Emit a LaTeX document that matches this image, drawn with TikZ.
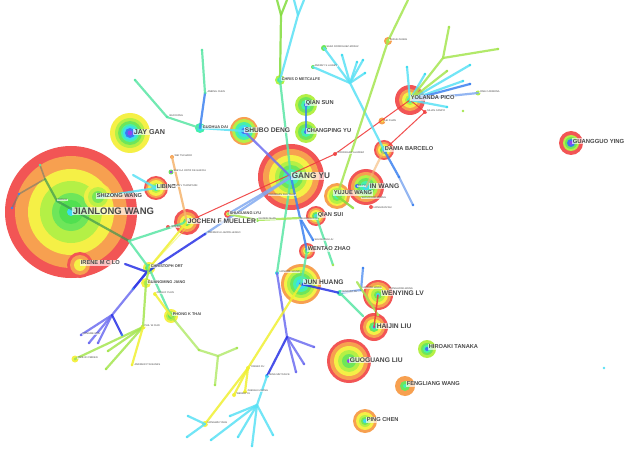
\documentclass[tikz,border=0pt]{standalone}
\usepackage{fontspec}
\setmainfont{Liberation Sans}
\definecolor{cR}{HTML}{F25555}
\definecolor{cO}{HTML}{F7A050}
\definecolor{cY}{HTML}{F5F046}
\definecolor{cLG}{HTML}{B4F046}
\definecolor{cG}{HTML}{6EE65A}
\definecolor{cG2}{HTML}{50E050}
\definecolor{cA}{HTML}{46F0AA}
\definecolor{cC}{HTML}{3CDCF0}
\definecolor{cB}{HTML}{3C78F0}
\definecolor{cP}{HTML}{9046F0}
\definecolor{eAG}{HTML}{5AE6A5}
\definecolor{eC}{HTML}{5AE1F5}
\definecolor{eB}{HTML}{3C82F0}
\definecolor{eLB}{HTML}{82AAF0}
\definecolor{eDB}{HTML}{2832E6}
\definecolor{ePB}{HTML}{6E6EF0}
\definecolor{eLG}{HTML}{A5E650}
\definecolor{eG}{HTML}{82DC3C}
\definecolor{eY}{HTML}{F0F032}
\definecolor{eO}{HTML}{F5B46E}
\definecolor{eR}{HTML}{F03C3C}
\definecolor{eGr}{HTML}{6E7A6E}
\definecolor{eDG}{HTML}{3C9650}
\definecolor{txt}{HTML}{484848}
\newcommand\citering[2]{\foreach \rr/\cc in {#2} {\fill[\cc] (#1) circle[radius=\rr];}}
\newcommand\tipdot[2]{\fill[#1] (#2) circle[radius=1.3];}
\tikzset{
 lnk/.style={line width=2.2pt, line cap=round, opacity=0.85},
 lnkthin/.style={line width=1pt, line cap=round, opacity=0.9},
 lab/.style={anchor=west, inner sep=0.6pt, fill=white, fill opacity=0.65, text opacity=1, text=txt},
 L1/.style={lab, font=\fontsize{9.5}{10}\selectfont\bfseries},
 Lg/.style={lab, font=\fontsize{8.2}{9}\selectfont\bfseries},
 Lj/.style={lab, font=\fontsize{7.2}{8}\selectfont\bfseries},
 L2/.style={lab, font=\fontsize{6.7}{7}\selectfont\bfseries},
 L3/.style={lab, font=\fontsize{5.7}{6}\selectfont\bfseries},
 L4/.style={lab, font=\fontsize{3.9}{4}\selectfont\bfseries},
 L5/.style={lab, inner sep=0.3pt, font=\fontsize{2.5}{3}\selectfont},
}
\begin{document}
\begin{tikzpicture}[x=1pt,y=-1pt]
\useasboundingbox (0,0) rectangle (628,454);
\fill[white] (0,0) rectangle (628,454);
% ---------- coordinates ----------
\coordinate (JW) at (71,212);   \coordinate (GY) at (291,177);  \coordinate (JG) at (130,133);
\coordinate (SD) at (244,131);  \coordinate (QS) at (306,105);  \coordinate (CY) at (306,132);
\coordinate (CM) at (280,80);   \coordinate (YZ) at (388,41);   \coordinate (SR) at (324,48);
\coordinate (AL) at (313,67);   \coordinate (LD) at (382,121);  \coordinate (YP) at (410,100);
\coordinate (DB) at (384,150);  \coordinate (IW) at (366,187);  \coordinate (YW) at (337,196);
\coordinate (QSu) at (316,216); \coordinate (WZ) at (307,251);  \coordinate (JH) at (301,284);
\coordinate (WL) at (378,295);  \coordinate (HL) at (374,327);  \coordinate (GL) at (349,361);
\coordinate (HT) at (427,349);  \coordinate (FW) at (405,386);  \coordinate (PC) at (365,421);
\coordinate (GYg) at (571,143); \coordinate (LB) at (156,188);  \coordinate (SW) at (98,197);
\coordinate (JM) at (187,222);  \coordinate (IL) at (80,265);   \coordinate (CO) at (149,268);
\coordinate (GJ) at (146,283);  \coordinate (PT) at (171,316);  \coordinate (SL) at (228,214);
\coordinate (PWC) at (143,327); \coordinate (JOB) at (75,359);  \coordinate (ZY) at (155,294);
\coordinate (GD) at (200,128);  \coordinate (BD) at (167,117);  \coordinate (AC) at (205,93);
\coordinate (SG) at (171,172);  \coordinate (TS) at (172,157);  \coordinate (RA) at (335,154);
\coordinate (JC) at (425,112);  \coordinate (JCa) at (478,93);  \coordinate (XY) at (357,186);
\coordinate (HW) at (371,207);  \coordinate (SZ) at (362,199);  \coordinate (JD) at (340,293);
\coordinate (HJW) at (361,290); \coordinate (HM) at (277,273);  \coordinate (YX) at (248,368);
\coordinate (ZZ) at (245,392);  \coordinate (WB) at (234,395);  \coordinate (HY) at (205,424);
\coordinate (MT) at (267,376);  \coordinate (LA) at (205,234);  \coordinate (GH) at (300,218);
\coordinate (GB) at (257,220);  \coordinate (ZL) at (57,201);   \coordinate (JMr) at (168,227);
% junctions and free ends
\coordinate (j1) at (40,165); \coordinate (j2) at (45,179); \coordinate (j3) at (19,194);
\coordinate (j4) at (12,208); \coordinate (j5) at (129,241); \coordinate (j6) at (133,175);
\coordinate (hub1) at (350,83); \coordinate (h1a) at (342,55); \coordinate (h1b) at (357,62);
\coordinate (h1c) at (363,60); \coordinate (h1d) at (365,73); \coordinate (top1) at (408,0);
\coordinate (yp1) at (407,67); \coordinate (yp2) at (425,74); \coordinate (yp3) at (447,71);
\coordinate (yp4) at (470,65); \coordinate (yp5) at (470,84); \coordinate (yp6) at (447,107);
\coordinate (yp7) at (443,58); \coordinate (yp8) at (449,27); \coordinate (yp9) at (498,49);
\coordinate (yp10) at (463,81); \coordinate (ypx) at (463,111);
\coordinate (db1) at (399,177); \coordinate (db2) at (413,205);
\coordinate (gd1) at (135,80); \coordinate (ac1) at (202,50);
\coordinate (cm1) at (281,15); \coordinate (cm2) at (277,0); \coordinate (cm3) at (287,0);
\coordinate (cm4) at (298,15); \coordinate (cm5) at (304,0); \coordinate (cm6) at (294,0);
\coordinate (bx) at (147,272); \coordinate (hub2) at (112,315);
\coordinate (b1) at (81,335); \coordinate (b2) at (89,343); \coordinate (b3) at (98,343);
\coordinate (b4) at (122,335); \coordinate (b5) at (133,289); \coordinate (il1) at (125,264);
\coordinate (pw1) at (108,351); \coordinate (pw2) at (106,369); \coordinate (pw3) at (132,365);
\coordinate (pt1) at (199,350); \coordinate (pt2) at (218,356); \coordinate (pt3) at (237,348);
\coordinate (pt4) at (215,385);
\coordinate (hm2) at (287,337); \coordinate (m1) at (314,347); \coordinate (m2) at (304,364);
\coordinate (m3) at (296,372); \coordinate (hub3) at (257,405);
\coordinate (c1) at (230,416); \coordinate (c2) at (211,440); \coordinate (c3) at (238,437);
\coordinate (c4) at (252,446); \coordinate (c5) at (273,435);
\coordinate (hy1) at (188,416); \coordinate (hy2) at (187,437);
\coordinate (hj1) at (363,268); \coordinate (hj2) at (363,316); \coordinate (hj3) at (357,282);
\coordinate (hj4) at (378,315); \coordinate (gh1) at (313,240); \coordinate (qs1) at (333,265);
\coordinate (yw1) at (353,208); \coordinate (iso) at (604,368);
% ---------- rings ----------
\citering{JW}{66/cR,56/cO,43/cY,31/cLG,19/cG,12/cG2,4/cC}
\begin{scope}[opacity=0.85]
\citering{SW}{14/cY,10/cLG,6/cG}
\end{scope}
\citering{IL}{13/cR,10/cO,6/cY}
\citering{JG}{20/cY,15/cLG,12/cG,9/cA,7/cC,5/cB,2.5/cP}
\citering{LB}{12/cR,10/cO,8/cY,5/cLG,3/cA}
\citering{JM}{13/cR,10/cO,7/cY,4/cG,2/cA}
\citering{CO}{6/cY,4/cG,2/cA}
\citering{GJ}{5/cY,2.5/cLG}
\citering{PT}{7/cY,5/cLG,3/cG}
\citering{SL}{4/cR,2/cY}
\citering{GY}{33/cR,28/cO,22/cY,16/cLG,12/cG,8/cA,4/cC,2/cB}
\citering{SD}{14/cO,12/cLG,9/cA,6/cC,3/cB}
\citering{QS}{11/cLG,8/cG,5/cA,2/cB}
\citering{CY}{11/cLG,8/cG,5/cA,2/cB}
\citering{CM}{5/cLG,3/cA,1.5/cB}
\citering{YZ}{4/cO,2/cLG}
\citering{SR}{3/cG}
\citering{AL}{2/cG}
\citering{LD}{3.5/cO,1.5/cY}
\citering{YP}{15/cR,11/cO,8/cY,5/cLG,3/cA}
\citering{DB}{10/cR,8/cO,6/cY,4/cG,2/cC}
\citering{IW}{18/cR,15/cO,12/cLG,9/cG,6/cA,3/cC}
\citering{YW}{13/cO,10/cY,8/cLG,5/cG,3/cA}
\citering{QSu}{10/cR,8/cO,6/cY,4/cG,2/cC}
\citering{WZ}{8/cR,6/cO,4/cY,2.5/cG,1.2/cC}
\citering{JH}{20/cO,17/cY,14/cLG,11/cG,8/cA,5/cC,2/cB}
\citering{WL}{15/cR,13/cO,10/cY,7/cLG,4/cG,2/cC}
\citering{HL}{14/cR,11/cO,8/cY,5/cG,3/cA,1.5/cP}
\citering{GL}{22/cR,19/cO,15/cY,11/cLG,7/cG,2/cP}
\citering{HT}{9/cLG,6/cG,4/cA,2/cB}
\citering{FW}{10/cO,5/cG,2/cA}
\citering{PC}{12/cO,9/cY,6/cLG,4/cG,2/cC}
\citering{GYg}{12/cR,8/cLG,6/cG,4/cB,2/cP}
\citering{PWC}{2.5/cY}
\citering{JOB}{3.5/cY,1.5/cLG}
\citering{ZY}{2/cY}
\citering{GD}{5/cA,3/cC}
\citering{BD}{1.5/cA}
\citering{AC}{1.5/cA}
\citering{SG}{2.5/cG,1.5/cP}
\citering{TS}{2/cO}
\citering{RA}{2/cR}
\citering{JC}{2/cR}
\citering{JCa}{2.5/cLG}
\citering{XY}{2/cB}
\citering{HW}{2/cR}
\citering{SZ}{1.5/cO}
\citering{JD}{3/cA}
\citering{HJW}{1.5/cB}
\citering{HM}{2/cC}
\citering{YX}{2/cY}
\citering{ZZ}{2/cY}
\citering{WB}{2/cY}
\citering{HY}{3/cY}
\citering{MT}{2/cC}
\citering{LA}{1.5/cB}
\citering{GH}{1.5/cB}
\citering{GB}{2/cG}
\citering{JMr}{2/cR}
\citering{ZL}{1.3/cA}
% ---------- connectors ----------
\draw[lnk,eGr,opacity=0.6,line width=1.6pt] (j1) -- (j2) -- (j3) -- (j4);
\draw[lnk,eDG,opacity=0.7] (j2) -- (ZL) -- (j5);
\draw[lnk,eAG] (j5) -- (JM);
\draw[lnk,eAG] (j5) -- (CO) -- (PT);
\draw[lnk,eC] (j6) -- (LB);
\draw[lnk,eC] (SW) -- (LB);
\draw[lnk,eO] (TS) -- (JM);
\draw[lnkthin,eR] (JM) -- (RA) -- (YP);
\draw[lnkthin,eR] (YP) -- (JC) -- (DB);
\draw[lnk,eO,opacity=0.6] (DB) -- (IW);
\draw[lnk,eB] (DB) -- (db1);
\draw[lnk,eLB] (db1) -- (db2);
\draw[lnk,eC] (hub1) -- (DB);
\foreach \t in {SR,AL,h1a,h1b,h1c,h1d} {\draw[lnk,eC] (hub1) -- (\t);}
\draw[lnk,eLG] (top1) -- (YZ) -- (YW);
\foreach \t in {yp1,yp2,yp4,yp6,yp10} {\draw[lnk,eC] (YP) -- (\t);}
\draw[lnk,eLG] (YP) -- (yp3);
\draw[lnk,eB] (YP) -- (yp5);
\draw[lnk,eLB] (YP) -- (JCa);
\draw[lnk,eLG] (YP) -- (yp7) -- (yp8);
\draw[lnk,eLG] (yp7) -- (yp9);
\draw[lnk,ePB] (SD) -- (GY);
\draw[lnk,eC] (GD) -- (SD);
\draw[lnk,eAG] (GD) -- (BD) -- (gd1);
\draw[lnk,eB] (GD) -- (AC);
\draw[lnk,eAG] (AC) -- (ac1);
\draw[lnk,eB] (QS) -- (CY);
\draw[lnk,eAG] (CM) -- (GY);
\draw[lnk,eG] (CM) -- (cm1) -- (cm2);
\draw[lnk,eG] (cm1) -- (cm3);
\draw[lnk,eC] (CM) -- (cm4) -- (cm5);
\draw[lnk,eC] (cm4) -- (cm6);
\draw[lnk,eLB] (GY) -- (SL);
\draw[lnk,eLB] (GY) -- (LA);
\draw[lnk,eDB] (LA) -- (bx);
\draw[lnk,eDB] (il1) -- (bx);
\draw[lnk,ePB] (bx) -- (hub2);
\draw[lnk,eDB] (bx) -- (b5);
\foreach \t in {b1,b2,b3} {\draw[lnk,ePB] (hub2) -- (\t);}
\draw[lnk,eDB] (hub2) -- (b4);
\draw[lnk,eY] (JM) -- (CO);
\draw[lnkthin,eY,opacity=0.5] ([xshift=5pt]JM) -- (CO);
\draw[lnk,eLG] (CO) -- (GJ) -- (PWC);
\foreach \t in {JOB,pw1,pw2} {\draw[lnk,eLG] (PWC) -- (\t);}
\draw[lnk,eY] (PWC) -- (pw3);
\draw[lnk,eY] (ZY) -- (PT);
\draw[lnk,eLG,opacity=0.7] (PT) -- (pt1) -- (pt2) -- (pt3);
\draw[lnk,eLG,opacity=0.7] (pt2) -- (pt4);
\draw[lnk,eAG] (GY) -- (HM);
\draw[lnk,ePB] (HM) -- (hm2);
\foreach \t in {m1,m2,m3} {\draw[lnk,ePB] (hm2) -- (\t);}
\draw[lnk,eDB] (hm2) -- (MT);
\draw[lnk,eC] (MT) -- (hub3);
\foreach \t in {c1,c2,c3,c4,c5} {\draw[lnk,eC] (hub3) -- (\t);}
\draw[lnk,eY] (JH) -- (YX) -- (HY);
\draw[lnk,eY] (YX) -- (ZZ);
\draw[lnk,eY] (YX) -- (WB);
\draw[lnk,eC] (HY) -- (hy1);
\draw[lnk,eC] (HY) -- (hy2);
\draw[lnk,eDB] (JH) -- (JD);
\draw[lnk,eLB] (JD) -- (HJW);
\draw[lnk,eB,opacity=0.7] (hj1) -- (HJW);
\draw[lnk,eAG] (JD) -- (hj2);
\draw[lnk,eLG] (hj3) -- (hj4);
\draw[lnk,eR,line width=1.5pt] (WL) -- (HL);
\draw[lnk,eB] (GY) -- (GH);
\draw[lnk,eB] (GH) -- (gh1);
\draw[lnk,eB] (GH) -- (WZ);
\draw[lnk,eAG] (QSu) -- (qs1);
\draw[lnk,eAG] (WZ) -- (JH);
\draw[lnk,eLG] (SL) -- (GB) -- (GH);
\draw[lnk,eG] (YW) -- (yw1);
% free-end dots
\foreach \t in {h1a,h1b,h1c,h1d,yp1,yp2,yp4,yp6,yp10} {\tipdot{cC}{\t}}
\foreach \t in {yp3,yp8,yp9,ypx,pw1,pw2,pt3,pt4,yw1,qs1,pt1,hj4} {\tipdot{eLG}{\t}}
\foreach \t in {yp5,db1,db2,hj1,gh1,j3,j4,b5,b4} {\tipdot{eB}{\t}}
\foreach \t in {b1,b2,b3,m1,m2,m3} {\tipdot{ePB}{\t}}
\foreach \t in {c1,c2,c3,c4,c5,hy1,hy2,iso} {\tipdot{eC}{\t}}
\foreach \t in {gd1,ac1,j1,j5} {\tipdot{eAG}{\t}}
\tipdot{eY}{pw3}
% ---------- labels ----------
\node[L1] (lJW) at (72,211) {JIANLONG WANG};
\node[Lg] (lGY) at (291,176) {GANG YU};
\node[Lj] (lJG) at (133,132) {JAY GAN};
\node[L2] (lSD) at (244,130) {SHUBO DENG};
\node[L3] (lQS) at (305,103) {QIAN SUN};
\node[L3] (lCY) at (306,131) {CHANGPING YU};
\node[L4] (lCM) at (281,79) {CHRIS D METCALFE};
\node[L5] (lYZ) at (389,40) {YUZHE ZHANG};
\node[L5] (lSR) at (326,47) {SARA RODRIGUEZ-MOZAZ};
\node[L5] (lAL) at (314,66) {ANDREY S LAJEEV};
\node[L5] (lLD) at (384,121) {LEI DUAN};
\node[L3] (lYP) at (410,98) {YOLANDA PICO};
\node[L5] (lJC) at (426,111) {JULIAN CAMPO};
\node[L5] (lJCa) at (479,92) {JOSE CARMONA};
\node[L3] (lDB) at (384,149) {DAMIA BARCELO};
\node[L5] (lRA) at (337,153) {RODRIGUEZ ALVAREZ};
\node[L2] (lIW) at (369,186) {IN WANG};
\node[L5] (lXY) at (357,186) {XIA YU};
\node[L5] (lSZ) at (361,198) {SHOUXIANG ZHANG};
\node[L5] (lHW) at (373,208) {HONGXIAN WU};
\node[L3] (lYW) at (333,193) {YUJUE WANG};
\node[L3] (lQSu) at (317,215) {QIAN SUI};
\node[L5] (lGH) at (299,219) {GUANGHUI LIU};
\node[L5] (lGL1) at (314,240) {SHUGUANG LIU};
\node[L3] (lWZ) at (307,249) {WENTAO ZHAO};
\node[L2] (lJH) at (303,282) {JUN HUANG};
\node[L5] (lJD) at (341,292) {JIANGHUI DU};
\node[L5] (lHJW) at (362,288) {HUIJUAN WANG};
\node[L5] (lDW) at (389,289) {DONGHONG WANG};
\node[L2] (lWL) at (381,293) {WENYING LV};
\node[L2] (lHL) at (376,326) {HAIJIN LIU};
\node[L2] (lGL) at (349,360) {GUOGUANG LIU};
\node[L3] (lHT) at (428,347) {HIROAKI TANAKA};
\node[L3] (lFW) at (406,384) {FENGLIANG WANG};
\node[L3] (lPC) at (366,420) {PING CHEN};
\node[lab, font=\fontsize{5.9}{6}\selectfont\bfseries] (lGYg) at (572,141) {GUANGGUO YING};
\node[L3] (lLB) at (156,187) {LIBING};
\node[L5] (lKT) at (172,186) {KEVIN V THOMPSON};
\node[L3] (lSW) at (96,196) {SHIZONG WANG};
\node[L2] (lJM) at (187,221) {JOCHEN F MUELLER};
\node[L3] (lIL) at (80,263) {IRENE M C LO};
\node[L4] (lCO) at (150,266) {CHRISTOPH ORT};
\node[L4] (lGJ) at (147,282) {GUANGMING JIANG};
\node[L5] (lZY) at (156,293) {ZHIGUO YUAN};
\node[L4] (lPT) at (172,314) {PHONG K THAI};
\node[L5] (lPWC) at (144,326) {PHIL W CHOI};
\node[L5] (lJOB) at (77,358) {JAKE W O'BRIEN};
\node[L5] (lPB) at (134,365) {ANDREW P W BANKS};
\node[L5] (lHZ) at (82,334) {HONGMEI ZOU};
\node[L4] (lSL) at (229,213) {SHUGUANG LYU};
\node[L5] (lLA) at (207,233) {ANDREW A LAMPOLLENGO};
\node[L5] (lGB) at (258,219) {GUOBIN SHAN};
\node[L5] (lCT) at (268,195) {CHANGMIN ZHA TANG};
\node[L4] (lGD) at (202,127) {GUOHUA DAI};
\node[L5] (lBD) at (169,116) {BAO DONG};
\node[L5] (lAC) at (207,92) {ANBING CHEN};
\node[L5] (lTS) at (174,156) {WEI TSCHARO};
\node[L5] (lSG) at (173,171) {SHEYLA ORTIZ DE GARCIA};
\node[L5] (lZL) at (57,200) {ZHOU LI};
\node[L5] (lHM) at (279,272) {HONGMEI WANG};
\node[L5] (lYX) at (250,367) {YINGBO XU};
\node[L5] (lZZ) at (247,391) {ZHENHUI ZHANG};
\node[L5] (lWB) at (236,394) {WENBO YU};
\node[L5] (lHY) at (207,423) {HONGWEI YANG};
\node[L5] (lMT) at (268,375) {JIANG METCALFE};
\node[L5] (lJMr) at (170,227) {JIAN XU};
\end{tikzpicture}
\end{document}
